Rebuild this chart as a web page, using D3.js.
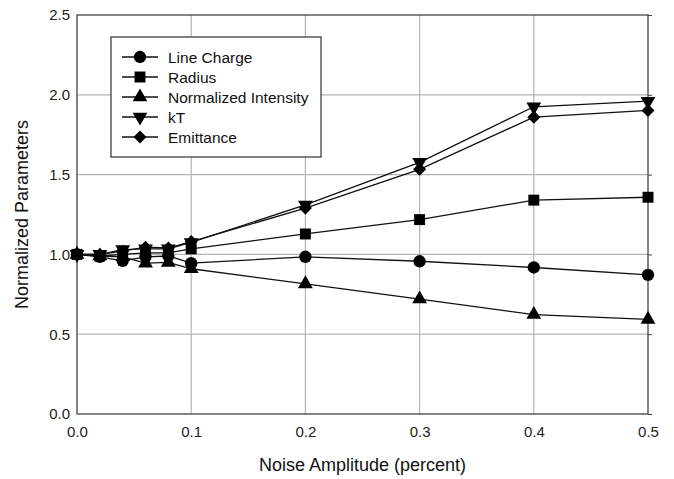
<!DOCTYPE html>
<html>
<head>
<meta charset="utf-8">
<script src="https://cdn.jsdelivr.net/npm/d3@7"></script>
<style>
  body { margin: 0; background: #fff; }
  text { font-family: "Liberation Sans", Arial, sans-serif; }
</style>
</head>
<body>
<div class="chart"></div>
<script>
var noise = [0, 0.02, 0.04, 0.06, 0.08, 0.1, 0.2, 0.3, 0.4, 0.5];
var lineCharge = [1.0, 0.985, 0.96, 0.985, 0.99, 0.945, 0.985, 0.957, 0.918, 0.872];
var radius     = [1.0, 0.99, 1.0, 1.01, 1.01, 1.035, 1.128, 1.218, 1.34, 1.358];
var normIntens = [1.0, 0.99, 0.985, 0.945, 0.95, 0.91, 0.815, 0.72, 0.623, 0.593];
var kT         = [1.0, 1.0, 1.03, 1.035, 1.035, 1.075, 1.31, 1.577, 1.925, 1.96];
var emittance  = [1.0, 1.0, 1.02, 1.045, 1.04, 1.08, 1.29, 1.533, 1.86, 1.902];
var seriesNames = ["Line Charge", "Radius", "Normalized Intensity", "kT", "Emittance"];
var xTicks = [0, 0.1, 0.2, 0.3, 0.4, 0.5];
var yTicks = [0, 0.5, 1.0, 1.5, 2.0, 2.5];

var margin = {top: 15, right: 26, bottom: 65, left: 77},
    width = 674 - margin.left - margin.right,
    height = 479 - margin.top - margin.bottom;

var svg = d3.select(".chart")
  .append("svg")
    .attr("width", 674)
    .attr("height", 479);
var g = svg.append("g")
    .attr("transform", "translate(" + margin.left + "," + margin.top + ")");

var x = d3.scaleLinear().domain([0, 0.5]).range([0, width]);
var y = d3.scaleLinear().domain([0, 2.5]).range([height, 0]);

// grid
g.selectAll(".vgrid").data(xTicks.slice(1, -1)).enter().append("line")
  .attr("x1", d => x(d)).attr("x2", d => x(d))
  .attr("y1", 0).attr("y2", height)
  .attr("stroke", "#b4b4b4").attr("stroke-width", 1.2);
g.selectAll(".hgrid").data(yTicks.slice(1, -1)).enter().append("line")
  .attr("x1", 0).attr("x2", width)
  .attr("y1", d => y(d)).attr("y2", d => y(d))
  .attr("stroke", "#b4b4b4").attr("stroke-width", 1.2);

// frame
g.append("rect").attr("width", width).attr("height", height)
  .attr("fill", "none").attr("stroke", "#444").attr("stroke-width", 1.3);

// axes
var xAxis = g.append("g").attr("transform", "translate(0," + height + ")")
  .call(d3.axisBottom(x).tickValues(xTicks).tickSize(0).tickPadding(12).tickFormat(d3.format(".1f")));
var yAxis = g.append("g")
  .call(d3.axisLeft(y).tickValues(yTicks).tickSize(0).tickPadding(7).tickFormat(d3.format(".1f")));
var rAxis = g.append("g").attr("transform", "translate(" + width + ",0)")
  .call(d3.axisRight(y).tickValues(yTicks).tickSize(4).tickFormat(""));
[xAxis, yAxis, rAxis].forEach(function(a) {
  a.select(".domain").remove();
  a.selectAll("text").attr("font-size", 15).attr("fill", "#222")
    .attr("font-family", "Liberation Sans, Arial, sans-serif");
  a.selectAll("line").attr("stroke", "#444");
});

// axis titles
svg.append("text").attr("x", margin.left + width / 2).attr("y", 471)
  .attr("text-anchor", "middle").attr("font-size", 18).attr("fill", "#111")
  .text("Noise Amplitude (percent)");
svg.append("text").attr("transform", "translate(28," + (margin.top + height / 2) + ") rotate(-90)")
  .attr("text-anchor", "middle").attr("font-size", 18).attr("fill", "#111")
  .text("Normalized Parameters");

// circle, square, triangle up, triangle down, diamond (rotated square)
var shapes = [d3.symbolCircle, d3.symbolSquare, d3.symbolTriangle, d3.symbolTriangle, d3.symbolSquare];
var sizes = [120, 120, 95, 95, 85];
var rots = [0, 0, 0, 180, 45];
var allSeries = [lineCharge, radius, normIntens, kT, emittance];

var line = d3.line().x(d => x(d[0])).y(d => y(d[1]));

allSeries.forEach(function(vals, i) {
  var pts = noise.map((n, j) => [n, vals[j]]);
  g.append("path").datum(pts)
    .attr("fill", "none").attr("stroke", "#111").attr("stroke-width", 1.3)
    .attr("d", line);
});
allSeries.forEach(function(vals, i) {
  var pts = noise.map((n, j) => [n, vals[j]]);
  g.selectAll(".m" + i).data(pts).enter().append("path")
    .attr("transform", d => "translate(" + x(d[0]) + "," + y(d[1]) + ") rotate(" + rots[i] + ")")
    .attr("d", d3.symbol().type(shapes[i]).size(sizes[i]))
    .attr("fill", "#000");
});

// legend
var leg = svg.append("g").attr("transform", "translate(111,37)");
leg.append("rect").attr("width", 210).attr("height", 120)
  .attr("fill", "#fff").attr("stroke", "#333").attr("stroke-width", 1.2);
seriesNames.forEach(function(name, i) {
  var yy = 20 + i * 20;
  leg.append("line").attr("x1", 11).attr("x2", 47).attr("y1", yy).attr("y2", yy)
    .attr("stroke", "#111").attr("stroke-width", 1.3);
  leg.append("path")
    .attr("transform", "translate(29," + yy + ") rotate(" + rots[i] + ")")
    .attr("d", d3.symbol().type(shapes[i]).size(sizes[i]))
    .attr("fill", "#000");
  leg.append("text").attr("x", 57).attr("y", yy + 5.5)
    .attr("font-size", 15.5).attr("fill", "#111").text(name);
});
</script>
</body>
</html>
